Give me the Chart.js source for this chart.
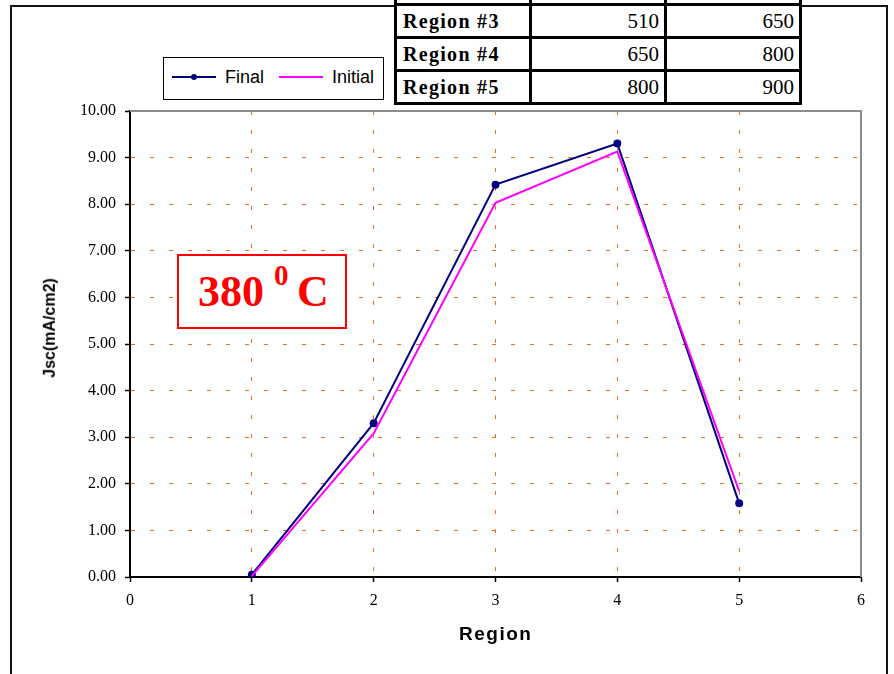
<!DOCTYPE html>
<html>
<head>
<meta charset="utf-8">
<script src="https://cdn.jsdelivr.net/npm/chart.js@4.4.1/dist/chart.umd.min.js"></script>
<style>
  html, body { margin: 0; padding: 0; background: #fff; }
  #wrap { position: relative; width: 894px; height: 674px; overflow: hidden; background: #fff; }
  #jscChart { position: absolute; left: 0; top: 0; }
  #frame {
    position: absolute; left: 10px; top: 5px; width: 874px; height: 700px;
    border: 2px solid #111; border-bottom: none;
  }
  #rangeTable {
    position: absolute; left: 394px; top: -30px; width: 408px;
    table-layout: fixed; border-collapse: collapse; background: #fff;
    font-family: "Liberation Serif", serif; font-size: 21px; color: #000;
  }
  #rangeTable td {
    border: 3px solid #000; height: 30px; padding: 0 5px 0 6px;
    text-align: right; line-height: 30px; overflow: hidden; white-space: nowrap;
  }
  #rangeTable td.name { text-align: left; font-weight: bold; letter-spacing: 1.3px; font-size: 20px; }
  #legend {
    position: absolute; left: 163px; top: 57px; width: 219px; height: 41px;
    border: 1px solid #000; background: #fff;
    font-family: "Liberation Sans", Arial, sans-serif; font-size: 18px; color: #000;
  }
  #legend .item { position: absolute; top: 9px; }
  #legend .swatch { position: absolute; top: 18px; width: 44px; height: 2px; }
  #legend .dot { position: absolute; left: 19px; top: -2px; width: 6px; height: 6px; border-radius: 50%; background: #000080; }
  #tempBox {
    position: absolute; left: 177px; top: 254px; width: 166px; height: 71px;
    border: 2px solid #ff0000; background: #fff;
    font-family: "Liberation Serif", serif; font-weight: bold; color: #ff0000;
  }
  #tempBox span { position: absolute; }
  .axisTitle {
    position: absolute; font-family: "Liberation Sans", Arial, sans-serif;
    font-weight: bold; color: #000; white-space: nowrap;
  }
</style>
</head>
<body>
<div id="wrap">
  <div id="frame"></div>
  <canvas id="jscChart" width="894" height="674"></canvas>

  <table id="rangeTable"></table>

  <div id="legend">
    <div class="swatch" style="left:8px; background:#000080;"><div class="dot"></div></div>
    <div class="item" style="left:61px;">Final</div>
    <div class="swatch" style="left:115px; background:#ff00ff;"></div>
    <div class="item" style="left:168px;">Initial</div>
  </div>

  <div id="tempBox">
    <span style="left:19px; top:10px; font-size:44px;">380</span>
    <span style="left:95px; top:3px; font-size:29px;">0</span>
    <span style="left:118px; top:10px; font-size:44px;">C</span>
  </div>

  <div class="axisTitle" id="yTitle" style="font-size:16px;">Jsc(mA/cm2)</div>
  <div class="axisTitle" id="xTitle" style="font-size:19px; letter-spacing:1.5px;">Region</div>
</div>

<script>
// measured Jsc per region, mA/cm2
const regions = [1, 2, 3, 4, 5];
const finalJsc = [0.05, 3.30, 8.42, 9.30, 1.58];
const initialJsc = [0.02, 3.08, 8.03, 9.13, 1.84];

// wavelength ranges table (top rows)
const tableRegions = ['', 'Region #3', 'Region #4', 'Region #5'];
const tableFrom = ['', 510, 650, 800];
const tableTo = ['', 650, 800, 900];

const gridOrange = '#f26b1d';

// build the range table
const table = document.getElementById('rangeTable');
tableRegions.forEach((name, i) => {
  const tr = document.createElement('tr');
  tr.innerHTML = `<td class="name">${name}</td><td>${tableFrom[i]}</td><td>${tableTo[i]}</td>`;
  table.appendChild(tr);
});

// axis titles placed around the plot area
function placeTitles(chart) {
  const a = chart.chartArea;
  const yT = document.getElementById('yTitle');
  const xT = document.getElementById('xTitle');
  yT.style.left = (50 - yT.offsetWidth / 2) + 'px';
  yT.style.top = (328 - yT.offsetHeight / 2) + 'px';
  yT.style.transform = 'rotate(-90deg)';
  xT.style.left = ((a.left + a.right) / 2 - xT.offsetWidth / 2) + 'px';
  xT.style.top = (634 - xT.offsetHeight / 2) + 'px';
}

// gray top/right edge of the plot area
const plotEdge = {
  id: 'plotEdge',
  beforeDatasetsDraw(chart) {
    const { ctx, chartArea: a } = chart;
    ctx.save();
    ctx.strokeStyle = '#8c8c8c';
    ctx.lineWidth = 2;
    ctx.beginPath();
    ctx.moveTo(a.left, a.top);
    ctx.lineTo(a.right, a.top);
    ctx.lineTo(a.right, a.bottom);
    ctx.stroke();
    ctx.restore();
  },
  afterRender(chart) { placeTitles(chart); }
};

const ctx = document.getElementById('jscChart').getContext('2d');
const chart = new Chart(ctx, {
  type: 'line',
  data: {
    datasets: [
      {
        label: 'Final',
        data: regions.map((r, i) => ({ x: r, y: finalJsc[i] })),
        borderColor: '#000080',
        backgroundColor: '#000080',
        borderWidth: 2,
        pointRadius: 3,
        pointHoverRadius: 3,
        tension: 0,
        order: 2
      },
      {
        label: 'Initial',
        data: regions.map((r, i) => ({ x: r, y: initialJsc[i] })),
        borderColor: '#ff00ff',
        backgroundColor: '#ff00ff',
        borderWidth: 2,
        pointRadius: 0,
        tension: 0,
        order: 1
      }
    ]
  },
  options: {
    responsive: false,
    animation: false,
    devicePixelRatio: 1,
    layout: { padding: { top: 111, right: 33, left: 0, bottom: 0 } },
    plugins: {
      legend: { display: false },
      tooltip: { enabled: false }
    },
    scales: {
      x: {
        type: 'linear',
        min: 0,
        max: 6,
        afterFit: (scale) => { scale.height = 97; },
        ticks: {
          stepSize: 1,
          color: '#000',
          padding: 9,
          font: { family: 'Liberation Serif', size: 16 }
        },
        grid: {
          color: (c) => (c.tick && c.tick.value > 0 && c.tick.value < 6) ? gridOrange : 'rgba(0,0,0,0)',
          lineWidth: 1,
          tickColor: '#000',
          tickLength: 5,
          tickWidth: 1.5
        },
        border: { color: '#000', width: 2, dash: [4, 15] }
      },
      y: {
        min: 0,
        max: 10,
        afterFit: (scale) => { scale.width = 130; },
        ticks: {
          stepSize: 1,
          color: '#000',
          padding: 9,
          font: { family: 'Liberation Serif', size: 16 },
          callback: (v) => Number(v).toFixed(2)
        },
        grid: {
          color: (c) => (c.tick && c.tick.value > 0 && c.tick.value < 10) ? gridOrange : 'rgba(0,0,0,0)',
          lineWidth: 1,
          tickColor: '#000',
          tickLength: 5,
          tickWidth: 1.5
        },
        border: { color: '#000', width: 2, dash: [4, 15] }
      }
    }
  },
  plugins: [plotEdge]
});
</script>
</body>
</html>
